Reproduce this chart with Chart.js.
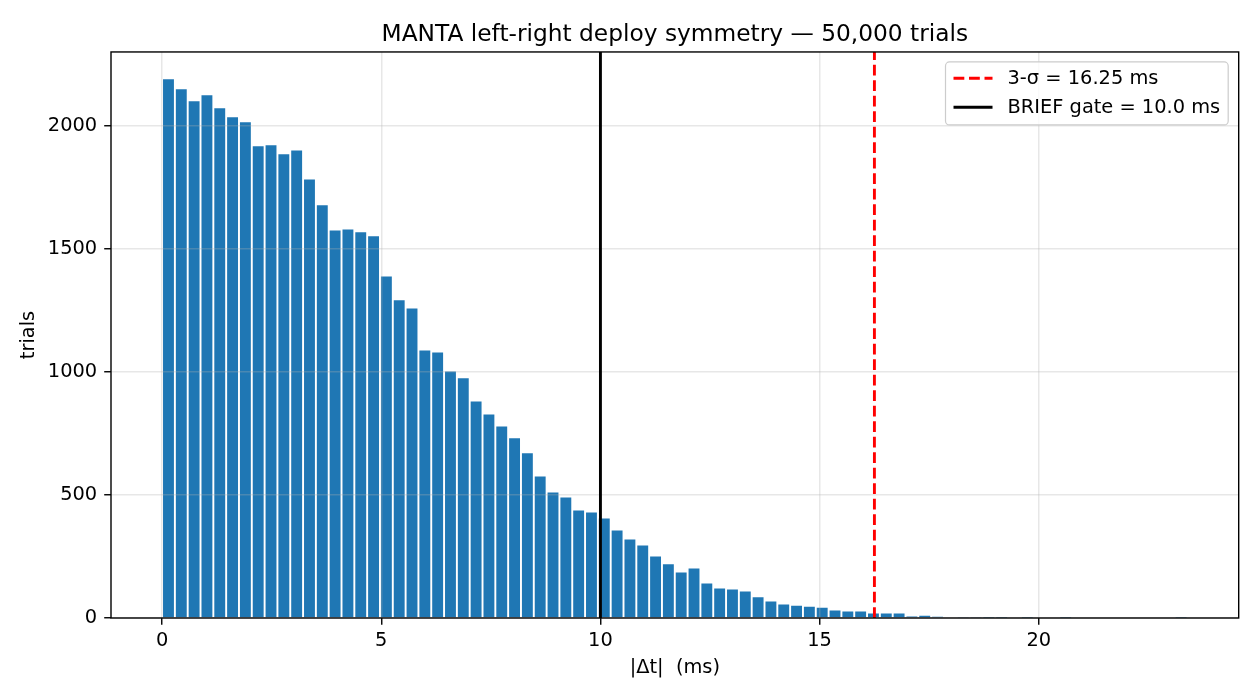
<!DOCTYPE html>
<html>
<head>
<meta charset="utf-8">
<script src="https://cdn.jsdelivr.net/npm/chart.js@4.4.1/dist/chart.umd.min.js"></script>
<style>
  html, body { margin: 0; padding: 0; background: #fff; }
  #wrap { width: 1260px; height: 700px; }
</style>
</head>
<body>
<div id="wrap"><canvas id="symChart" width="1260" height="700"></canvas></div>
<script>
// histogram of |dt| over 50k trials, 80 bins
const binWidth = 0.2924;
const trialCounts = [
  2189, 2148, 2100, 2124, 2071, 2035, 2014, 1917, 1921, 1884,
  1900, 1782, 1677, 1575, 1579, 1567, 1551, 1388, 1291, 1258,
  1087, 1079, 1002, 974, 880, 827, 778, 730, 669, 575,
  510, 490, 437, 429, 404, 356, 319, 295, 250, 218,
  185, 201, 140, 120, 116, 108, 84, 67, 55, 50,
  46, 42, 30, 26, 26, 18, 18, 18, 6, 9,
  5, 3, 2, 2, 1, 1, 0, 1, 0, 0,
  1, 0, 0, 0, 0, 0, 0, 0, 0, 1
];
const xTicks = [0, 5, 10, 15, 20];
const yTicks = [0, 500, 1000, 1500, 2000];
const sigmaLimit = 16.25;
const briefGate = 10.0;
const xRange = [-1.165, 24.56];
const yMax = 2300;

const FONT = 'DejaVu Sans';
const FS = 19.4;
Chart.defaults.color = '#000';
Chart.defaults.font.family = FONT;

const binCenters = trialCounts.map((_, i) => (i + 0.5) * binWidth);
const bars = trialCounts.map((c, i) => ({ x: binCenters[i], y: c }));

const legendItems = [
  { label: '3-\u03c3 = 16.25 ms', color: '#ff0000', dash: [10.8, 4.7] },
  { label: 'BRIEF gate = 10.0 ms', color: '#000000', dash: [] }
];

// vertical lines drawn above the grid, then spines and legend
const overlay = {
  id: 'overlay',
  beforeDatasetDraw(chart, args) {
    if (args.meta.type === 'line') return false;
  },
  afterDraw(chart) {
    const { ctx, chartArea: a } = chart;
    ctx.save();
    ctx.beginPath();
    ctx.rect(a.left, a.top, a.right - a.left, a.bottom - a.top);
    ctx.clip();
    chart.getSortedVisibleDatasetMetas().forEach((m) => {
      if (m.type === 'line') m.controller.draw();
    });
    ctx.restore();

    // spines
    ctx.save();
    ctx.strokeStyle = '#000';
    ctx.lineWidth = 1.4;
    ctx.strokeRect(a.left, a.top, a.right - a.left, a.bottom - a.top);
    ctx.restore();

    // legend
    ctx.save();
    ctx.font = FS + 'px ' + FONT;
    const textW = Math.max(...legendItems.map((it) => ctx.measureText(it.label).width));
    const w = 8 + 54 + textW + 8;
    const h = 63;
    const x0 = a.right - 10.5 - w;
    const y0 = a.top + 10;
    ctx.beginPath();
    ctx.roundRect(x0, y0, w, h, 4);
    ctx.fillStyle = 'rgba(255,255,255,0.8)';
    ctx.fill();
    ctx.strokeStyle = '#cccccc';
    ctx.lineWidth = 1.2;
    ctx.stroke();
    legendItems.forEach((it, i) => {
      const cy = y0 + 16.3 + i * 29;
      ctx.beginPath();
      ctx.setLineDash(it.dash);
      ctx.strokeStyle = it.color;
      ctx.lineWidth = 2.9;
      ctx.moveTo(x0 + 8, cy);
      ctx.lineTo(x0 + 47, cy);
      ctx.stroke();
      ctx.setLineDash([]);
      ctx.fillStyle = '#000';
      ctx.textBaseline = 'middle';
      ctx.fillText(it.label, x0 + 62, cy + 1);
    });
    ctx.restore();
  }
};

const gridOpts = {
  z: 1,
  offset: false,
  color: 'rgba(176,176,176,0.3)',
  lineWidth: 1.5,
  tickColor: '#000',
  tickWidth: 1.4,
  tickLength: 6.8
};

new Chart(document.getElementById('symChart'), {
  type: 'bar',
  data: {
    datasets: [
      {
        label: 'trials',
        data: bars,
        backgroundColor: '#1f77b4',
        borderWidth: 0,
        barPercentage: 0.85,
        categoryPercentage: 1.0,
        order: 2
      },
      {
        type: 'line',
        label: legendItems[0].label,
        data: [{ x: sigmaLimit, y: 0 }, { x: sigmaLimit, y: yMax }],
        borderColor: '#ff0000',
        borderWidth: 2.9,
        borderDash: [10.8, 4.7],
        pointRadius: 0,
        order: 1
      },
      {
        type: 'line',
        label: legendItems[1].label,
        data: [{ x: briefGate, y: 0 }, { x: briefGate, y: yMax }],
        borderColor: '#000000',
        borderWidth: 2.9,
        pointRadius: 0,
        order: 0
      }
    ]
  },
  options: {
    responsive: false,
    animation: false,
    devicePixelRatio: 1,
    layout: { padding: { left: 0, right: 21.3, top: 0, bottom: 0 } },
    plugins: {
      legend: { display: false },
      tooltip: { enabled: false },
      title: {
        display: true,
        fullSize: false,
        text: 'MANTA left-right deploy symmetry \u2014 50,000 trials',
        font: { size: 23.3, weight: 'normal', family: FONT },
        padding: { top: 21, bottom: 3 }
      }
    },
    scales: {
      x: {
        type: 'linear',
        offset: false,
        min: xRange[0],
        max: xRange[1],
        afterBuildTicks: (s) => { s.ticks = xTicks.map((v) => ({ value: v })); },
        afterFit: (s) => { s.height = 82; },
        ticks: { font: { size: FS }, padding: 5, maxRotation: 0, callback: (v) => String(v) },
        grid: gridOpts,
        border: { display: false },
        title: {
          display: true,
          text: '|\u0394t|  (ms)',
          font: { size: FS },
          padding: { top: 0, bottom: 20.4 }
        }
      },
      y: {
        min: 0,
        max: yMax,
        afterBuildTicks: (s) => { s.ticks = yTicks.map((v) => ({ value: v })); },
        afterFit: (s) => { s.width = 111; },
        ticks: { font: { size: FS }, padding: 7, callback: (v) => String(v) },
        grid: gridOpts,
        border: { display: false },
        title: {
          display: true,
          text: 'trials',
          font: { size: FS },
          padding: { top: 17.4, bottom: 0 }
        }
      }
    }
  },
  plugins: [overlay]
});
</script>
</body>
</html>
